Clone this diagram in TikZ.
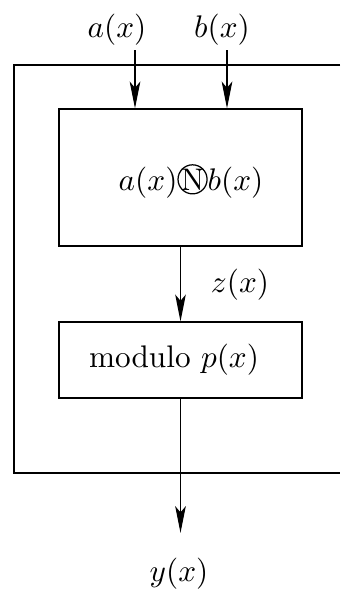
\documentclass[tikz,border=0pt]{standalone}
\usepackage{amsmath}
\usepackage{amssymb}
\usepackage{tikz}
\usetikzlibrary{arrows.meta}

\newcommand{\circN}{\mathord{\tikz[baseline=(cn.base)]\node[circle,draw,inner sep=-0.3pt] (cn) {N};}}

\begin{document}
\begin{tikzpicture}[x=0.32pt,y=-0.32pt,>={Stealth[length=8.6pt,width=3.4pt,inset=2pt]},
    blockbox/.style={draw,inner sep=0pt,minimum width=77.8pt}]
    \useasboundingbox (0,0) rectangle (340,590);
    % outer frame, open on the right
    \draw (340,65) -- (14,65) -- (14,473) -- (340,473);
    % inputs
    \node (alab) at (117,30) {$a(x)$};
    \node (blab) at (222,30) {$b(x)$};
    \coordinate (ain) at (135,50);
    \coordinate (bin) at (227,50);
    % blocks
    \node[blockbox,minimum height=43.8pt] (mult) at (180.5,177.5) {};
    \node (prod) at (191,181) {$a(x)\circN b(x)$};
    \node[blockbox,minimum height=24.3pt] (mod) at (180.5,360) {};
    \node (modtxt) at (174,360) {modulo $p(x)$};
    \node (zlab) at (240,285) {$z(x)$};
    % output
    \coordinate (yout) at (180.5,533);
    \node (ylab) at (179,574) {$y(x)$};
    \draw[->] (ain) -- (ain |- mult.north);
    \draw[->] (bin) -- (bin |- mult.north);
    \draw[->] (mult.south) -- (mod.north);
    \draw[->] (mod.south) -- (yout);
\end{tikzpicture}
\end{document}
